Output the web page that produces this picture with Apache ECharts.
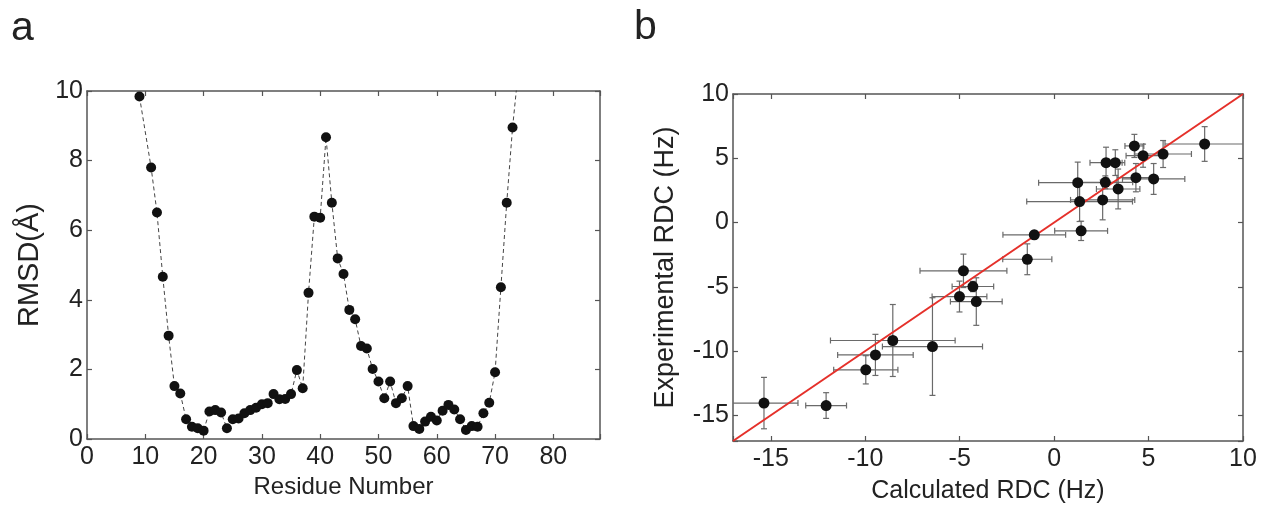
<!DOCTYPE html>
<html>
<head>
<meta charset="utf-8">
<script src="https://cdn.jsdelivr.net/npm/echarts@6/dist/echarts.min.js"></script>
<style>
html,body{margin:0;padding:0;background:#fff;}
#c{width:1265px;height:511px;}
</style>
</head>
<body>
<div id="c"></div>
<script>
// Panel a: RMSD per residue
const residues = [9,11,12,13,14,15,16,17,18,19,20,21,22,23,24,25,26,27,28,29,30,31,32,33,34,35,36,37,38,39,40,41,42,43,44,45,46,47,48,49,50,51,52,53,54,55,56,57,58,59,60,61,62,63,64,65,66,67,68,69,70,71,72,73,74];
const rmsd = [9.84,7.80,6.51,4.66,2.97,1.52,1.31,0.57,0.35,0.31,0.24,0.79,0.83,0.76,0.31,0.57,0.59,0.74,0.83,0.90,1.00,1.03,1.29,1.14,1.15,1.29,1.98,1.46,4.20,6.39,6.36,8.67,6.79,5.19,4.74,3.71,3.44,2.67,2.60,2.01,1.65,1.17,1.65,1.03,1.17,1.52,0.37,0.29,0.50,0.64,0.53,0.81,0.98,0.85,0.57,0.26,0.37,0.35,0.74,1.04,1.92,4.36,6.79,8.95,10.6];

// Panel b: calculated vs experimental RDC with errors
const calcRDC = [-15.36,-12.07,-9.97,-9.46,-8.54,-6.44,-4.80,-5.01,-4.30,-4.12,-1.42,-1.05,1.43,1.25,1.35,2.57,2.71,2.75,3.24,3.39,4.33,5.27,4.25,4.71,5.77,7.97];
const expRDC  = [-14.05,-14.24,-11.46,-10.30,-9.18,-9.65,-3.76,-5.76,-4.98,-6.15,-2.86,-0.96,-0.65,3.10,1.63,1.76,3.13,4.66,4.66,2.61,3.49,3.39,5.96,5.20,5.33,6.11];
const calcErr = [1.8,1.08,1.7,2.0,3.3,2.65,2.3,1.45,1.1,1.37,1.3,1.66,1.4,2.07,2.8,1.7,1.45,0.85,0.5,1.15,1.0,1.65,0.5,0.9,1.5,2.1];
const expErr  = [2.0,1.0,1.1,1.6,2.8,3.8,1.3,1.2,0.4,1.85,1.2,0.3,0.75,1.6,1.55,1.55,0.5,1.2,1.0,1.55,1.1,1.2,0.9,0.9,1.05,1.35];
const diagLine = [-17, 10];

const FONT = 'Liberation Sans, Arial, sans-serif';
const AXC = '#555';
const chart = echarts.init(document.getElementById('c'), null, {renderer:'canvas'});

function frameAxis(base) {
  return Object.assign({
    axisLine:{show:true, onZero:false, lineStyle:{color:AXC, width:1.5}},
    axisTick:{show:true, inside:true, length:5, lineStyle:{color:AXC, width:1.2}},
    splitLine:{show:false},
  }, base);
}

const lbl = {color:'#222', fontSize:25, fontFamily:FONT};
const nm = {color:'#222', fontSize:24, fontFamily:FONT};

function renderErr(params, api) {
  const x = api.value(0), y = api.value(1), ex = api.value(2), ey = api.value(3);
  const cs = params.coordSys;
  const x0 = cs.x, x1 = cs.x + cs.width, y0 = cs.y, y1 = cs.y + cs.height;
  const c = api.coord([x, y]);
  const l = api.coord([x - ex, y]), r = api.coord([x + ex, y]);
  const t = api.coord([x, y + ey]), b = api.coord([x, y - ey]);
  const cap = 3;
  const st = {stroke:'#6a6a6a', lineWidth:1.2};
  const ch = [];
  const lx = Math.max(x0, l[0]), rx = Math.min(x1, r[0]);
  const ty = Math.max(y0, t[1]), by = Math.min(y1, b[1]);
  ch.push({type:'line', shape:{x1:lx, y1:c[1], x2:rx, y2:c[1]}, style:st});
  if (l[0] >= x0) ch.push({type:'line', shape:{x1:l[0], y1:c[1]-cap, x2:l[0], y2:c[1]+cap}, style:st});
  if (r[0] <= x1) ch.push({type:'line', shape:{x1:r[0], y1:c[1]-cap, x2:r[0], y2:c[1]+cap}, style:st});
  ch.push({type:'line', shape:{x1:c[0], y1:ty, x2:c[0], y2:by}, style:st});
  if (t[1] >= y0) ch.push({type:'line', shape:{x1:c[0]-cap, y1:t[1], x2:c[0]+cap, y2:t[1]}, style:st});
  if (b[1] <= y1) ch.push({type:'line', shape:{x1:c[0]-cap, y1:b[1], x2:c[0]+cap, y2:b[1]}, style:st});
  return {type:'group', children:ch};
}

const fmt5 = v => (Math.abs(v - Math.round(v)) < 1e-9 && Math.round(v) % 5 === 0 ? String(v) : '');

const option = {
  backgroundColor:'#fff',
  animation:false,
  textStyle:{fontFamily:FONT},
  graphic:[
    {type:'text', left:11, top:8, style:{text:'a', fontSize:41, fontFamily:FONT, fill:'#222'}},
    {type:'text', left:634, top:7, style:{text:'b', fontSize:41, fontFamily:FONT, fill:'#222'}}
  ],
  grid:[
    {left:87, right:665, top:91, bottom:72},
    {left:733, right:22, top:94, bottom:70}
  ],
  xAxis:[
    frameAxis({type:'value', gridIndex:0, position:'bottom', min:0, max:88, interval:10,
      name:'Residue Number', nameLocation:'middle', nameGap:36, nameTextStyle:nm,
      axisLabel:Object.assign({margin:6, formatter:v => (v % 10 === 0 ? String(v) : '')}, lbl)}),
    frameAxis({type:'value', gridIndex:0, position:'top', min:0, max:88, interval:10, axisLabel:{show:false}}),
    frameAxis({type:'value', gridIndex:1, position:'bottom', min:-17, max:10, splitNumber:5,
      name:'Calculated RDC (Hz)', nameLocation:'middle', nameGap:38, nameTextStyle:Object.assign({}, nm, {fontSize:25}),
      axisLabel:Object.assign({margin:6, formatter:fmt5}, lbl)}),
    frameAxis({type:'value', gridIndex:1, position:'top', min:-17, max:10, splitNumber:5, axisLabel:{show:false}})
  ],
  yAxis:[
    frameAxis({type:'value', gridIndex:0, position:'left', min:0, max:10, interval:2,
      name:'RMSD(Å)', nameLocation:'middle', nameGap:43, nameRotate:90, nameTextStyle:Object.assign({}, nm, {fontSize:29}),
      axisLabel:Object.assign({margin:4}, lbl)}),
    frameAxis({type:'value', gridIndex:0, position:'right', min:0, max:10, interval:2, axisLabel:{show:false}}),
    frameAxis({type:'value', gridIndex:1, position:'left', min:-17, max:10, splitNumber:5,
      name:'Experimental RDC (Hz)', nameLocation:'middle', nameGap:54, nameRotate:90, nameTextStyle:Object.assign({}, nm, {fontSize:27}),
      axisLabel:Object.assign({margin:4, formatter:fmt5}, lbl)}),
    frameAxis({type:'value', gridIndex:1, position:'right', min:-17, max:10, splitNumber:5, axisLabel:{show:false}})
  ],
  series:[
    {type:'line', xAxisIndex:0, yAxisIndex:0, clip:true,
      data:residues.map((r,i)=>[r, rmsd[i]]),
      symbol:'circle', symbolSize:10,
      itemStyle:{color:'#111', opacity:1},
      lineStyle:{color:'#444', width:1, type:[4,3]}},
    {type:'line', xAxisIndex:2, yAxisIndex:2, clip:true,
      data:[[diagLine[0], diagLine[0]],[diagLine[1], diagLine[1]]],
      symbol:'none', lineStyle:{color:'#e5302a', width:2}, z:3},
    {type:'custom', xAxisIndex:2, yAxisIndex:2, renderItem:renderErr,
      data:calcRDC.map((v,i)=>[v, expRDC[i], calcErr[i], expErr[i]]), z:2},
    {type:'scatter', xAxisIndex:2, yAxisIndex:2,
      data:calcRDC.map((v,i)=>[v, expRDC[i]]),
      symbol:'circle', symbolSize:11, itemStyle:{color:'#111', opacity:1}, z:4}
  ]
};
chart.setOption(option);
</script>
</body>
</html>
